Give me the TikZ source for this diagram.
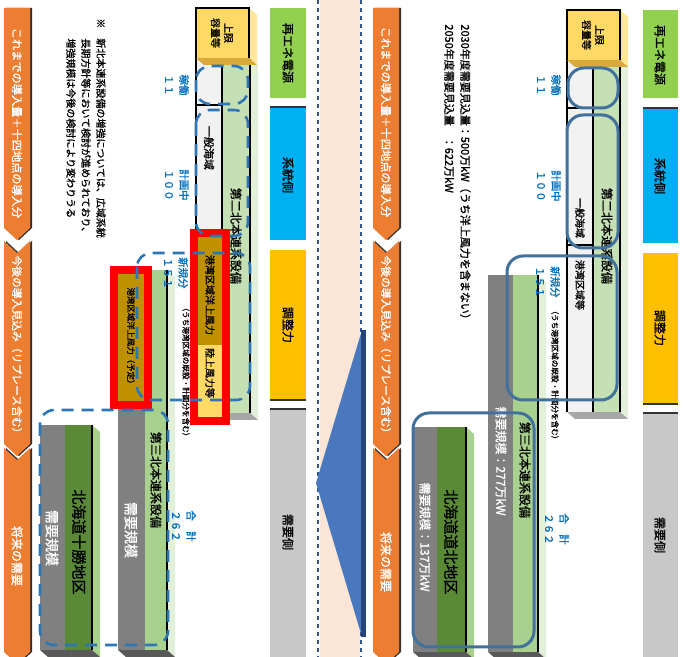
\documentclass[tikz,border=0pt]{standalone}
\usepackage{fontspec}
\setmainfont{Noto Sans CJK JP}[AutoFakeBold=1.2]
\definecolor{orA}{HTML}{ED7D31}
\definecolor{peach}{HTML}{FBE5D6}
\definecolor{navy}{HTML}{2F5597}
\definecolor{triB}{HTML}{4A78BE}
\definecolor{phG}{HTML}{92D050}
\definecolor{phB}{HTML}{00B0F0}
\definecolor{phY}{HTML}{FFC000}
\definecolor{phK}{HTML}{C8C8C8}
\definecolor{capY}{HTML}{FFD966}
\definecolor{capYs}{HTML}{FFE699}
\definecolor{capYb}{HTML}{D9A93A}
\definecolor{pgreen}{HTML}{C5E0B4}
\definecolor{pgreenS}{HTML}{E2F0D9}
\definecolor{mgreen}{HTML}{A9D18E}
\definecolor{dgreen}{HTML}{5A8A36}
\definecolor{wcol}{HTML}{F2F2F2}
\definecolor{gold}{HTML}{BF9000}
\definecolor{lyel}{HTML}{FFD966}
\definecolor{pgray}{HTML}{808080}
\definecolor{bgray}{HTML}{595959}
\definecolor{lblue}{HTML}{0070C0}
\definecolor{dashB}{HTML}{2E75B6}
\definecolor{solB}{HTML}{41719C}
\newcommand\fz[1]{\fontsize{#1}{#1}\selectfont\bfseries}
% 3D box: x0 y0 x1 y1 front side bottom
\newcommand\BoxTD[7]{%
  \fill[#6] (#3,#2) -- ({#3+8},{#2+7}) -- ({#3+8},{#4+7}) -- (#3,#4) -- cycle;
  \fill[#7] (#1,#4) -- (#3,#4) -- ({#3+8},{#4+7}) -- ({#1+8},{#4+7}) -- cycle;
  \fill[#5] (#1,#2) rectangle (#3,#4);}
\newcommand\OArrows[1]{%
  \begin{scope}[shift={(#1,0)}]
    \foreach \dx/\col in {2/black!80, 0/orA}{
      \fill[\col,shift={(\dx,0)}] (0,8) -- (26,8) -- (26,228) -- (13,240) -- (0,228) -- cycle;
      \fill[\col,shift={(\dx,0)}] (0,241) -- (13,253) -- (26,241) -- (26,444) -- (13,456) -- (0,444) -- cycle;
      \fill[\col,shift={(\dx,0)}] (0,448) -- (13,460) -- (26,448) -- (26,652) -- (13,664) -- (0,652) -- cycle;}
  \end{scope}}
\begin{document}
\begin{tikzpicture}[x=0.5pt,y=-0.5pt,
  vt/.style={rotate=-90, inner sep=0pt, align=center},
  wt/.style={vt, text=white},
  blab/.style={vt, text=lblue, font=\fontsize{5.2pt}{7.5pt}\selectfont\bfseries},
  edge/.style={draw=black, line width=0.8},
  dashrect/.style={draw=dashB, dash pattern=on 6 off 4, line width=1.3, rounded corners=7},
  solrect/.style={draw=solB, line width=1.5, rounded corners=8},
  redbox/.style={draw=red, line width=4}]
\useasboundingbox (0,0) rectangle (687,657);
\fill[white] (0,0) rectangle (687,657);

% centre band, divider and triangle
\fill[peach] (320,0) rectangle (360,657);
\draw[navy, dash pattern=on 2 off 2, line width=1.3] (318,0) -- (318,657);
\draw[navy, dash pattern=on 2 off 2, line width=1.3] (361,0) -- (361,657);
\fill[triB] (362,330) -- (362,637) -- (316,483) -- cycle;
\draw[navy!80!black, line width=2.5] (363,330) -- (363,637);

% orange process arrows
\OArrows{4}
\OArrows{373}
\node[wt, font=\fz{5.6pt}] (la1) at (17,123) {これまでの導入量＋十四地点の導入分};
\node[wt, font=\fz{5.4pt}] (la2) at (17,347) {今後の導入見込み（リプレース含む）};
\node[wt, font=\fz{6pt}] (la3) at (17,556) {将来の需要};
\node[wt, font=\fz{5.6pt}] (ra1) at (386,122) {これまでの導入量＋十四地点の導入分};
\node[wt, font=\fz{5.4pt}] (ra2) at (386,347) {今後の導入見込み（リプレース含む）};
\node[wt, font=\fz{6pt}] (ra3) at (386,562) {将来の需要};

% notes
\node[vt, anchor=north west, align=left, font=\fontsize{5pt}{7.5pt}\selectfont\bfseries] (lnote) at (106,18)
  {※\hspace{5pt}新北本連系設備の増強については、広域系統\\
   \phantom{※}\hspace{5pt}長期方針等において検討が進められており、\\
   \phantom{※}\hspace{5pt}増強規模は今後の検討により変わりうる};
\node[vt, anchor=north west, align=left, font=\fontsize{5.5pt}{8pt}\selectfont\bfseries] (rnote) at (471,24)
  {2030年度需要見込量：500万kW（うち洋上風力を含まない）\\
   2050年度需要見込量　：622万kW};

% phase columns
\fill[phG] (270,8) rectangle (306,98);
\fill[phB] (270,107) rectangle (306,240);
\draw[black!80, line width=1.2] (270,107) -- (306,107);
\fill[phY] (270,250) rectangle (306,400);
\draw[black!80, line width=1.2] (270,400) -- (306,400);
\fill[phK] (270,409) rectangle (306,657);
\draw[black!80, line width=1.2] (270,409) -- (306,409);
\node[vt, font=\fz{6pt}] (lp1) at (288,53) {再エネ電源};
\node[vt, font=\fz{6pt}] (lp2) at (288,175) {系統側};
\node[vt, font=\fz{6pt}] (lp3) at (288,325) {調整力};
\node[vt, font=\fz{6pt}] (lp4) at (288,532) {需要側};

\fill[phG] (643,10) rectangle (678,98);
\fill[phB] (643,108) rectangle (678,243);
\draw[black!80, line width=1.2] (643,108) -- (678,108);
\fill[phY] (643,253) rectangle (678,404);
\draw[black!80, line width=1.2] (643,404) -- (678,404);
\fill[phK] (643,413) rectangle (678,657);
\draw[black!80, line width=1.2] (643,413) -- (678,413);
\node[vt, font=\fz{6pt}] (rp1) at (660,55) {再エネ電源};
\node[vt, font=\fz{6pt}] (rp2) at (660,176) {系統側};
\node[vt, font=\fz{6pt}] (rp3) at (660,328) {調整力};
\node[vt, font=\fz{6pt}] (rp4) at (660,535) {需要側};

% ---------- left panel pillars ----------
% pillar 1
\BoxTD{196}{58}{250}{413}{pgreen}{pgreenS}{black!35}
\fill[wcol] (196,58) rectangle (222,233);
\draw[edge] (196,233) -- (196,58) -- (250,58) -- (250,413);
\draw[edge] (222,58) -- (222,413);
\draw[edge] (196,105) -- (222,105);
\BoxTD{196}{8}{249}{58}{capY}{capYs}{capYb}
\draw[edge] (196,58) -- (196,8) -- (249,8) -- (249,58);
\fill[gold] (196,235) rectangle (224,345);
\fill[lyel] (196,345) rectangle (224,419);
\draw[redbox] (194,233) rectangle (226,421);
\node[vt, font=\fontsize{5pt}{6.5pt}\selectfont\bfseries] (lcap) at (222,33) {上限\\容量等};
\node[vt, font=\fz{5.5pt}] (lw1) at (209,148) {一般海域};
\node[vt, font=\fz{6pt}] (lg1) at (236,236) {第二北本連系設備};
\node[vt, font=\fz{5pt}] (lgold1) at (210,295) {港湾区域洋上風力};
\node[vt, font=\fz{5pt}] (lly1) at (210,373) {陸上風力等};
\node[vt, font=\fz{3.8pt}] (lsm) at (186,372) {（うち港湾区域の既設・計画分を含む）};
% pillar 2
\BoxTD{118}{270}{167}{650}{mgreen}{pgreenS}{bgray}
\fill[pgray] (118,405) rectangle (145,650);
\draw[edge] (167,270) -- (167,650);
\fill[gold] (116,272) rectangle (146,403);
\draw[redbox] (114,270) rectangle (148,405);
\node[vt, font=\fz{4.2pt}] (lgold2) at (131,338) {港湾区域洋上風力（予定）};
\node[vt, font=\fz{6pt}] (lg2) at (156,480) {第三北本連系設備};
\node[wt, font=\fz{7pt}] (lk2) at (131,530) {需要規模};
% pillar 3
\BoxTD{40}{425}{92}{650}{dgreen}{mgreen}{bgray}
\fill[pgray] (40,425) rectangle (65,650);
\draw[edge] (92,425) -- (92,650);
\node[wt, font=\fz{7pt}] (lk3) at (52,538) {需要規模};
\node[vt, font=\fz{7.5pt}] (lg3) at (79,542) {北海道十勝地区};
% dashed groups
\draw[dashrect] (196,66) rectangle (248,104);
\draw[dashrect] (196,110) rectangle (248,236);
\draw[dashrect] (137,253) rectangle (250,400);
\draw[dashrect] (40,410) rectangle (168,645);
% blue labels
\node[blab] (ln1) at (177,85) {稼働\\１１};
\node[blab] (ln2) at (177,185) {計画中\\１００};
\node[blab] (ln3) at (176,273) {新規分\\１５１};
\node[blab] (ln4) at (184,526) {合　計\\２６２};

% ---------- right panel pillars ----------
% pillar 1
\BoxTD{567}{60}{620}{412}{pgreen}{pgreenS}{black!35}
\fill[wcol] (567,60) rectangle (593,412);
\draw[edge] (567,412) -- (567,60) -- (620,60) -- (620,412);
\draw[edge] (593,60) -- (593,412);
\draw[edge] (567,108) -- (593,108);
\draw[edge] (567,245) -- (593,245);
\BoxTD{567}{10}{620}{60}{capY}{capYs}{capYb}
\draw[edge] (567,60) -- (567,10) -- (620,10) -- (620,60);
\node[vt, font=\fontsize{5pt}{6.5pt}\selectfont\bfseries] (rcap) at (593,35) {上限\\容量等};
\node[vt, font=\fz{5pt}] (rw1) at (580,218) {一般海域};
\node[vt, font=\fz{5pt}] (rw2) at (580,285) {港湾区域等};
\node[vt, font=\fz{6pt}] (rg1) at (607,236) {第二北本連系設備};
\node[vt, font=\fz{3.8pt}] (rsm) at (555,375) {（うち港湾区域の既設・計画分を含む）};
% pillar 2
\BoxTD{488}{275}{538}{652}{mgreen}{pgreenS}{bgray}
\fill[pgray] (488,275) rectangle (513,652);
\draw[edge] (538,275) -- (538,652);
\node[wt, font=\fz{6pt}] (rk2) at (501,461) {需要規模：277万kW};
\node[vt, font=\fz{6pt}] (rg2) at (525,470) {第三北本連系設備};
% pillar 3
\BoxTD{413}{427}{466}{652}{dgreen}{mgreen}{bgray}
\fill[pgray] (413,427) rectangle (437,652);
\draw[edge] (466,427) -- (466,652);
\node[wt, font=\fz{6pt}] (rk3) at (425,537) {需要規模：137万kW};
\node[vt, font=\fz{7.5pt}] (rg3) at (451,542) {北海道道北地区};
% solid groups
\draw[solrect] (568,68) rectangle (618,108);
\draw[solrect] (567,115) rectangle (618,248);
\draw[solrect] (507,256) rectangle (617,400);
\draw[solrect] (413,413) rectangle (534,647);
% blue labels
\node[blab] (rn1) at (549,85) {稼働\\１１};
\node[blab] (rn2) at (549,186) {計画中\\１００};
\node[blab] (rn3) at (548,282) {新規分\\１５１};
\node[blab] (rn4) at (557,529) {合　計\\２６２};
\end{tikzpicture}
\end{document}
